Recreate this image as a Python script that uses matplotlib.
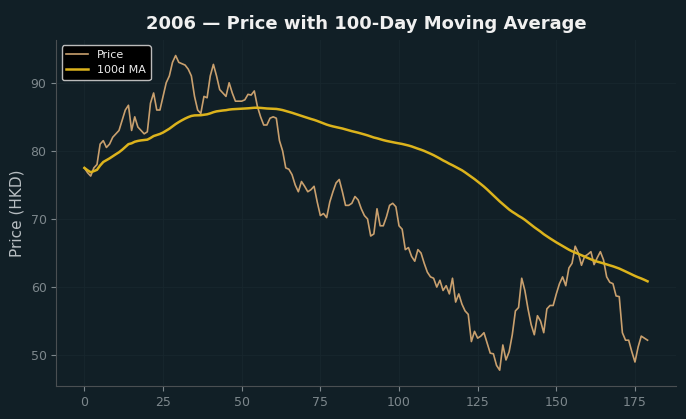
import numpy as np
import pandas as pd
from matplotlib import pyplot as plt

# daily closing prices (trading day index 0..179)
price = [
    77.5, 76.8, 76.3, 77.5, 78.0, 81.0, 81.5, 80.5, 81.0, 82.0,
    82.5, 83.0, 84.5, 86.0, 86.7, 83.0, 85.0, 83.5, 83.0, 82.5,
    82.8, 87.0, 88.5, 86.0, 86.0, 88.0, 90.0, 91.0, 93.0, 94.0,
    93.0, 92.8, 92.6, 92.0, 91.0, 88.0, 86.0, 85.5, 88.0, 87.8,
    91.0, 92.7, 91.0, 89.0, 88.5, 88.0, 90.0, 88.5, 87.3, 87.3,
    87.3, 87.5, 88.3, 88.2, 88.8, 86.5, 85.0, 83.8, 83.8, 84.8,
    85.0, 84.8, 81.5, 80.0, 77.5, 77.3, 76.5, 75.0, 74.0, 75.5,
    74.8, 74.0, 74.3, 74.8, 72.5, 70.5, 70.8, 70.2, 72.5, 74.0,
    75.3, 75.8, 74.0, 72.0, 72.0, 72.3, 73.3, 72.8, 71.5, 70.5,
    70.0, 67.5, 67.8, 71.5, 69.0, 69.0, 70.3, 72.0, 72.3, 71.8,
    69.0, 68.5, 65.5, 65.8, 64.5, 63.8, 65.5, 65.0, 63.5, 62.2,
    61.5, 61.3, 60.0, 61.0, 59.5, 60.2, 59.0, 61.3, 57.8, 59.0,
    57.5, 56.5, 56.0, 52.0, 53.5, 52.5, 52.8, 53.3, 51.8, 50.3,
    50.2, 48.5, 47.8, 51.5, 49.3, 50.5, 53.0, 56.5, 57.0, 61.3,
    59.5, 56.8, 54.5, 53.0, 55.8, 55.0, 53.3, 56.8, 57.3, 57.3,
    59.0, 60.5, 61.5, 60.2, 62.8, 63.5, 66.0, 65.0, 63.2, 64.5,
    64.8, 65.2, 63.3, 64.3, 65.2, 64.0, 61.5, 60.7, 60.5, 58.7,
    58.6, 53.3, 52.2, 52.2, 50.5, 49.0, 51.2, 52.8, 52.5, 52.2,
]
days = np.arange(len(price))
ma = pd.Series(price).rolling(100, min_periods=1).mean()

bg = '#111f26'
fig = plt.figure(figsize=(6.86, 4.19), dpi=100, facecolor=bg)
ax = fig.add_axes([0.082, 0.079, 0.903, 0.826], facecolor=bg)

ax.plot(days, price, color='#c9a06e', lw=1.2, label='Price')
ax.plot(days, ma, color='#dcb31c', lw=1.8, label='100d MA')

ax.set_title('2006 — Price with 100-Day Moving Average', color='#f0f0f0',
             fontsize=13, fontweight='bold', pad=8)
ax.set_ylabel('Price (HKD)', color='#b8bec2', fontsize=11)
ax.set_yticks([50, 60, 70, 80, 90])
ax.set_xticks([0, 25, 50, 75, 100, 125, 150, 175])
ax.tick_params(colors='#7d878c', labelsize=9)
ax.grid(True, color='#18272e', lw=0.6)
for s in ['top', 'right']:
    ax.spines[s].set_visible(False)
for s in ['left', 'bottom']:
    ax.spines[s].set_color('#4a4f52')

leg = ax.legend(loc='upper left', fontsize=8, facecolor='black',
                edgecolor='#bbbbbb', framealpha=1)
for t in leg.get_texts():
    t.set_color('#eeeeee')

fig.savefig('out.png', facecolor=bg)
